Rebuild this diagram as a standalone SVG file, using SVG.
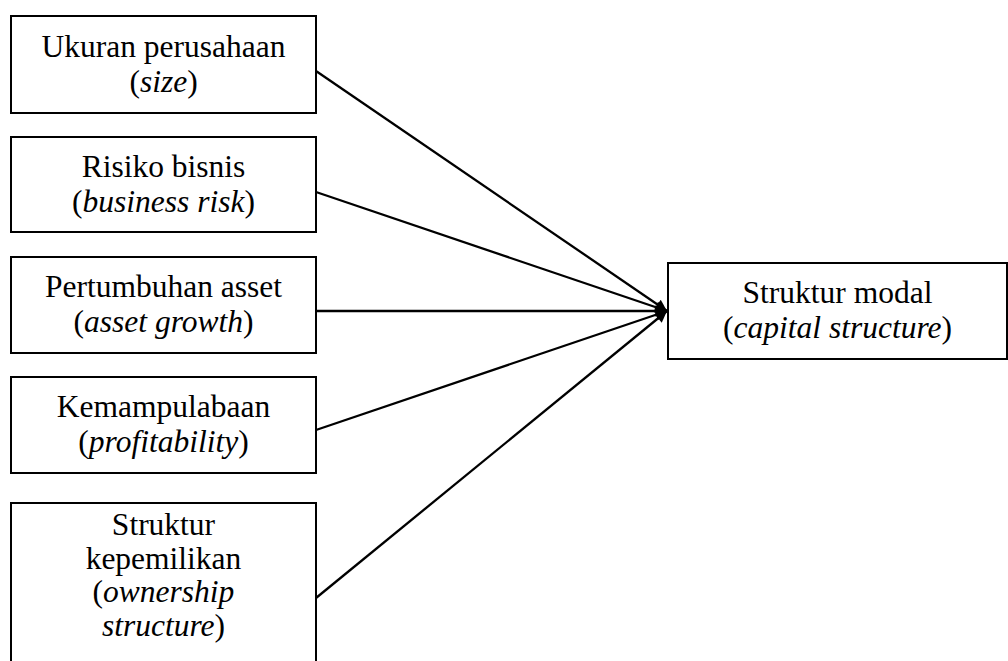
<svg xmlns="http://www.w3.org/2000/svg" width="1008" height="661" viewBox="0 0 1008 661">
<style>
.box{fill:#fff;stroke:#000;stroke-width:2}
.t{font-family:"Liberation Serif","Times New Roman",serif;font-size:31.5px;fill:#000;text-anchor:middle}
.i{font-style:italic}
.c{stroke:#000;stroke-width:2.3;fill:none}
</style>
<defs>
<marker id="ah" viewBox="0 0 10 10" refX="10" refY="5" markerWidth="6.5" markerHeight="5" markerUnits="strokeWidth" orient="auto">
<path d="M0,0 L10,5 L0,10 z" fill="#000"/>
</marker>
</defs>
<rect width="1008" height="661" fill="#fff"/>
<g id="connectors">
<line class="c" x1="316" y1="71" x2="667" y2="311" marker-end="url(#ah)"/>
<line class="c" x1="316" y1="192" x2="667" y2="311" marker-end="url(#ah)"/>
<line class="c" x1="316" y1="311" x2="667" y2="311" marker-end="url(#ah)"/>
<line class="c" x1="316" y1="430" x2="667" y2="311" marker-end="url(#ah)"/>
<line class="c" x1="316" y1="598" x2="667" y2="311" marker-end="url(#ah)"/>
</g>
<g id="size">
<rect class="box" x="11" y="16" width="305" height="97"/>
<text class="t" x="163.5" y="57">Ukuran perusahaan</text>
<text class="t" x="163.5" y="92">(<tspan class="i">size</tspan>)</text>
</g>
<g id="risk">
<rect class="box" x="11" y="137" width="305" height="95"/>
<text class="t" x="163.5" y="177">Risiko bisnis</text>
<text class="t" x="163.5" y="212">(<tspan class="i">business risk</tspan>)</text>
</g>
<g id="growth">
<rect class="box" x="11" y="257" width="305" height="96"/>
<text class="t" x="163.5" y="297">Pertumbuhan asset</text>
<text class="t" x="163.5" y="332">(<tspan class="i">asset growth</tspan>)</text>
</g>
<g id="profit">
<rect class="box" x="11" y="377" width="305" height="96"/>
<text class="t" x="163.5" y="417">Kemampulabaan</text>
<text class="t" x="163.5" y="452">(<tspan class="i">profitability</tspan>)</text>
</g>
<g id="ownership">
<rect class="box" x="11" y="503" width="305" height="180"/>
<text class="t" x="163.5" y="535">Struktur</text>
<text class="t" x="163.5" y="568.5">kepemilikan</text>
<text class="t" x="163.5" y="602">(<tspan class="i">ownership</tspan></text>
<text class="t" x="163.5" y="635.5"><tspan class="i">structure</tspan>)</text>
</g>
<g id="capital">
<rect class="box" x="668" y="263" width="339" height="96"/>
<text class="t" x="837.5" y="303">Struktur modal</text>
<text class="t" x="837.5" y="338">(<tspan class="i">capital structure</tspan>)</text>
</g>
</svg>
